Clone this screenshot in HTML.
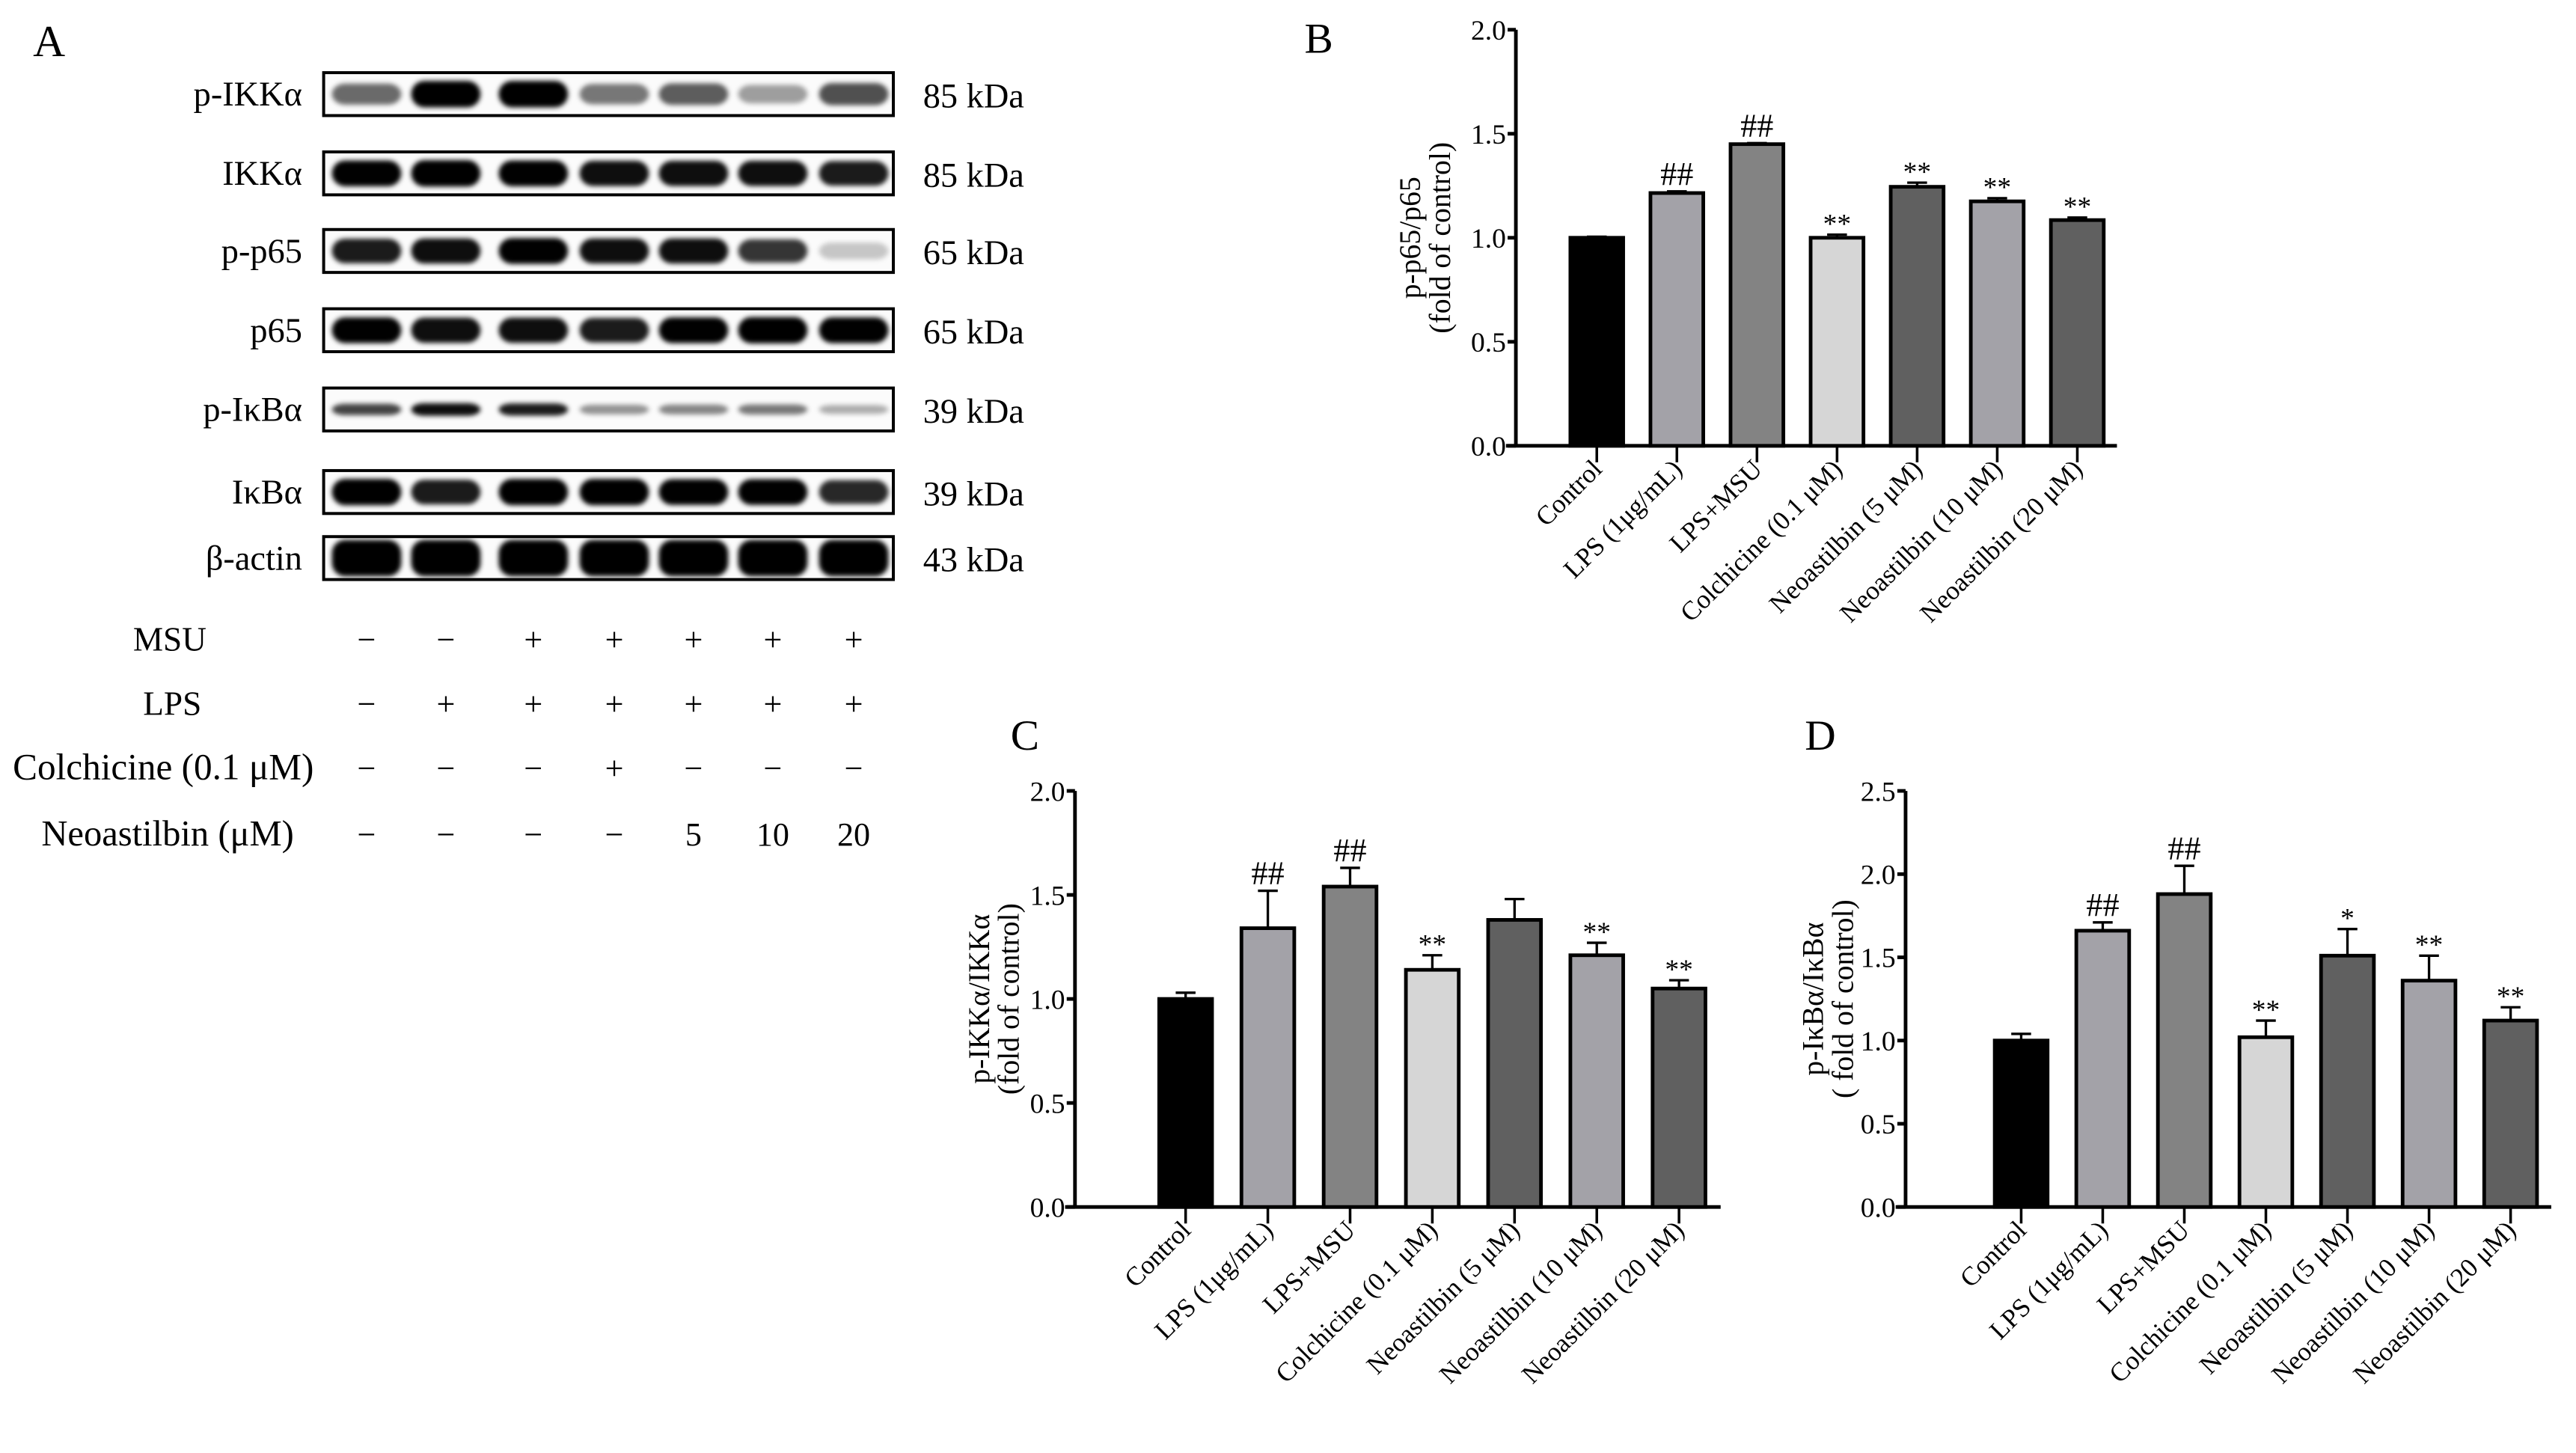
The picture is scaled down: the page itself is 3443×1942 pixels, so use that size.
<!DOCTYPE html>
<html><head><meta charset="utf-8">
<style>
html,body{margin:0;padding:0;background:#fff;}
svg{display:block;font-family:"Liberation Serif",serif;}
</style></head>
<body>
<svg id="fig" width="3443" height="1942" viewBox="0 0 1560 880" preserveAspectRatio="none" xmlns="http://www.w3.org/2000/svg">
<defs>
<filter id="blur" x="-20%" y="-50%" width="140%" height="200%"><feGaussianBlur stdDeviation="1.4"/></filter>
</defs>
<rect width="1560" height="880" fill="#fff"/>
<g id="panelA"></g>
<g id="panelB"></g>
<g id="panelC"></g>
<g id="panelD"></g>
</svg>
<script>
const NS="http://www.w3.org/2000/svg";
// ---- chart data ----
const categories=["Control","LPS (1μg/mL)","LPS+MSU","Colchicine (0.1 μM)","Neoastilbin (5 μM)","Neoastilbin (10 μM)","Neoastilbin (20 μM)"];
const barColors=["#000000","#a3a2a8","#838383","#d6d6d6","#606060","#a3a2a8","#606060"];
const valuesB=[1.0,1.215,1.45,1.0,1.245,1.175,1.085];
const errorsB=[0.005,0.008,0.005,0.015,0.02,0.015,0.012];
const marksB=["","##","##","**","**","**","**"];
const ticksB=["0.0","0.5","1.0","1.5","2.0"];
const valuesC=[1.0,1.34,1.54,1.14,1.38,1.21,1.05];
const errorsC=[0.03,0.18,0.09,0.07,0.1,0.06,0.04];
const marksC=["","##","##","**","","**","**"];
const ticksC=["0.0","0.5","1.0","1.5","2.0"];
const valuesD=[1.0,1.66,1.88,1.02,1.51,1.36,1.12];
const errorsD=[0.04,0.05,0.17,0.1,0.16,0.15,0.08];
const marksD=["","##","##","**","*","**","**"];
const ticksD=["0.0","0.5","1.0","1.5","2.0","2.5"];
// blot data
const blotRows=["p-IKKα","IKKα","p-p65","p65","p-IκBα","IκBα","β-actin"];
const blotKDa=["85 kDa","85 kDa","65 kDa","65 kDa","39 kDa","39 kDa","43 kDa"];
const blotIntensity=[
 [0.55,1,1,0.5,0.6,0.35,0.65],
 [0.95,1,0.95,0.9,0.9,0.9,0.85],
 [0.85,0.9,0.95,0.9,0.9,0.75,0.2],
 [0.95,0.9,0.9,0.85,0.95,1,0.95],
 [0.7,0.9,0.85,0.4,0.45,0.5,0.3],
 [1,0.85,1,1,0.95,0.95,0.8],
 [1,1,1,1,1,1,1]];
const treatRows=["MSU","LPS","Colchicine (0.1 μM)","Neoastilbin (μM)"];
const treatVals=[["−","−","+","+","+","+","+"],["−","+","+","+","+","+","+"],["−","−","−","+","−","−","−"],["−","−","−","−","5","10","20"]];

function el(tag,attrs,parent,text){const e=document.createElementNS(NS,tag);for(const k in attrs)e.setAttribute(k,attrs[k]);if(text!==undefined)e.textContent=text;parent.appendChild(e);return e;}

// ---- Panel A ----
(function(){
 const g=document.getElementById('panelA');
 const t=el('text',{x:20,y:34,'font-size':27},g,"A");
 
 
 const rowTop=[44,92,139,187,235,285,325];
 const rowH=26;
 const lanes=[222,270,323,372,420,468,517];
 blotRows.forEach((name,r)=>{
  const y=rowTop[r];
  const rg=el('g',{},g);
  
  
  el('rect',{x:196,y:y,width:345,height:rowH,fill:'#fbfbfb',stroke:'#000','stroke-width':1.8},rg);
  const thick=(r===4)?4:(r===6?11:8);
  lanes.forEach((lx,i)=>{
   const v=blotIntensity[r][i];
   const b=el('rect',{x:lx-21,y:y+rowH/2-thick*(0.6+0.5*v)/1.1,width:42,height:2*thick*(0.6+0.5*v)/1.1,rx:8,fill:'#000','fill-opacity':Math.min(1,v*1.05),filter:'url(#blur)'},rg);
   
   
  });
  const l=el('text',{x:183,y:y+rowH/2+7,'font-size':21,'text-anchor':'end'},rg,name);
  
  
  const k=el('text',{x:559,y:y+rowH/2+8,'font-size':21},rg,blotKDa[r]);
  
  
 });
 const ty=[394,433,472,512];
 const tx=[125,122,190,178];
 const tf=[20.5,20.5,22.3,22];
 treatRows.forEach((name,r)=>{
  const l=el('text',{x:tx[r],y:ty[r],'font-size':tf[r],'text-anchor':'end'},g,name);
  
  
  lanes.forEach((lx,i)=>{
   const s=el('text',{x:lx,y:ty[r],'font-size':20,'text-anchor':'middle'},g,treatVals[r][i]);
   
   
  });
 });
})();

// ---- bar chart ----
function barChart(gid,letter,letterPos,ax,values,errors,marks,ticks,ymax,titleLines,titleX){
 const g=document.getElementById(gid);
 const L=el('text',{x:letterPos[0],y:letterPos[1],'font-size':26},g,letter);
 
 
 const y=v=>ax.y0-(v/ymax)*(ax.y0-ax.yTop);
 const x=i=>ax.x0+ax.first+i*ax.step;
 const ya=el('line',{x1:ax.x0,y1:ax.yTop,x2:ax.x0,y2:ax.y0+1,stroke:'#000','stroke-width':2.2},g);
 
 
 ticks.forEach(tl=>{
  const v=parseFloat(tl);
  el('line',{x1:ax.x0-5,y1:y(v),x2:ax.x0,y2:y(v),stroke:'#000','stroke-width':2.2},g);
  const tt=el('text',{x:ax.x0-6,y:y(v)+6,'font-size':17,'text-anchor':'end'},g,tl);
  
  
 });
 const xa=el('line',{x1:ax.x0-6,y1:ax.y0,x2:ax.xEnd,y2:ax.y0,stroke:'#000','stroke-width':2.2},g);
 
 
 const bw=ax.bw;
 values.forEach((v,i)=>{
  const cx=x(i);
  const e=el('line',{x1:cx,y1:y(v),x2:cx,y2:y(v+errors[i]),stroke:'#000','stroke-width':1.5},g);
  
  
  el('line',{x1:cx-6,y1:y(v+errors[i]),x2:cx+6,y2:y(v+errors[i]),stroke:'#000','stroke-width':1.5},g);
  const b=el('rect',{x:cx-bw/2,y:y(v),width:bw,height:ax.y0-y(v),fill:barColors[i],stroke:'#000','stroke-width':2.2},g);
  
  
  if(marks[i]){
   const isHash=marks[i][0]==='#';
   const m=el('text',{x:cx,y:y(v+errors[i])-(isHash?4:1),'font-size':isHash?20:17,'text-anchor':'middle'},g,marks[i]);
   
   
  }
  el('line',{x1:cx,y1:ax.y0,x2:cx,y2:ax.y0+10,stroke:'#000','stroke-width':1.6},g);
  const lx=cx+4, ly=ax.y0+15;
  const xl=el('text',{x:lx,y:ly,'font-size':16,'text-anchor':'end',transform:`rotate(-45 ${lx} ${ly})`},g,categories[i]);
  
  
 });
 const cy=(ax.yTop+ax.y0)/2;
 titleLines.forEach((t,k)=>{
  const tx=titleX+k*18;
  const tt=el('text',{x:tx,y:cy,'font-size':18,'text-anchor':'middle',transform:`rotate(-90 ${tx} ${cy})`},g,t);
  
  
 });
}
barChart('panelB','B',[790,32],{x0:918,yTop:18,y0:270,first:49,step:48.5,bw:32,xEnd:1282},valuesB,errorsB,marksB,ticksB,2.0,["p-p65/p65","(fold of control)"],860);
barChart('panelC','C',[612,454],{x0:651,yTop:479,y0:731,first:67,step:49.8,bw:32,xEnd:1042},valuesC,errorsC,marksC,ticksC,2.0,["p-IKKα/IKKα","(fold of control)"],599);
barChart('panelD','D',[1093,454],{x0:1154,yTop:479,y0:731,first:70,step:49.4,bw:32,xEnd:1545},valuesD,errorsD,marksD,ticksD,2.5,["p-IκBα/IκBα","( fold of control)"],1104);
</script>
</body></html>
